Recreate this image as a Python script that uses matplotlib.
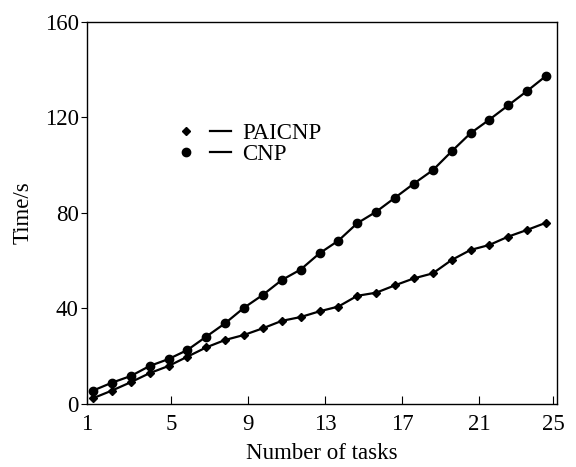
import matplotlib
matplotlib.use('Agg')
import matplotlib.pyplot as plt
from matplotlib.lines import Line2D
from matplotlib.legend_handler import HandlerTuple

plt.rcParams['font.family'] = ['Liberation Serif', 'DejaVu Serif']

tasks = list(range(1, 26))
paicnp = [2.4, 5.6, 9.1, 12.9, 15.9, 19.8, 23.7, 26.8, 28.9, 31.7, 34.8, 36.4,
          38.8, 40.8, 45.3, 46.6, 49.7, 52.6, 54.7, 60.3, 64.5, 66.6, 70.1, 72.9, 75.9]
cnp = [5.6, 8.9, 11.7, 15.9, 18.8, 22.6, 28.2, 33.8, 40.3, 45.7, 51.9, 56.3,
       63.1, 68.4, 75.7, 80.5, 86.4, 92.3, 97.9, 105.8, 113.4, 119.1, 125.1, 131.1, 137.4]
xticks = [1, 5, 9, 13, 17, 21, 25]
yticks = [0, 40, 80, 120, 160]
fs = 16.5

fig = plt.figure(figsize=(5.76, 4.67), dpi=100)
ax = fig.add_axes([0.151, 0.135, 0.816, 0.818])

# points sit slightly inside the frame in the original
ax.plot(tasks, paicnp, color='black', lw=1.6, marker='D', ms=4.2, clip_on=False)
ax.plot(tasks, cnp, color='black', lw=1.6, marker='o', ms=6, clip_on=False)

ax.set_xlim(0.68, 25.58)
ax.set_ylim(0, 160)
# tick labels of the original are not aligned with the point positions
ax.set_xticks([0.68 + (p - 87) / 470 * 24.9 for p in [87, 171, 248, 325, 402, 479, 553]])
ax.set_xticklabels([str(t) for t in xticks])
ax.set_yticks(yticks)
ax.tick_params(axis='x', direction='in', length=6, labelsize=fs, pad=7)
ax.tick_params(axis='y', direction='out', length=4, labelsize=fs, pad=2)
for s in ax.spines.values():
    s.set_linewidth(1.0)

ax.set_xlabel('Number of tasks', fontsize=fs, labelpad=6)
ax.set_ylabel('Time/s', fontsize=fs, labelpad=8)

h1 = (Line2D([], [], color='black', marker='D', ms=4.2, ls='none'),
      Line2D([], [], color='black', lw=1.6))
h2 = (Line2D([], [], color='black', marker='o', ms=6, ls='none'),
      Line2D([], [], color='black', lw=1.6))
ax.legend([h1, h2], ['PAICNP', 'CNP'], handler_map={tuple: HandlerTuple(ndivide=None, pad=0.6)},
          loc='upper left', bbox_to_anchor=(0.17, 0.76), frameon=False, fontsize=fs,
          handlelength=2.4, handletextpad=0.5, labelspacing=0.0, borderaxespad=0)

fig.savefig('out.png', dpi=100)
